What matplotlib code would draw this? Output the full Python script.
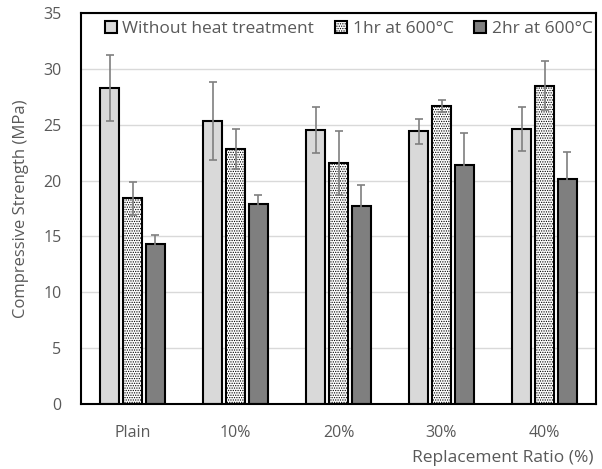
import matplotlib.pyplot as plt
import numpy as np

plt.rcParams['font.family'] = ['Open Sans', 'DejaVu Sans']
plt.rcParams['hatch.linewidth'] = 0.6

categories = ['Plain', '10%', '20%', '30%', '40%']
series_names = ['Without heat treatment', '1hr at 600°C', '2hr at 600°C']
no_heat = [28.3, 25.3, 24.5, 24.4, 24.6]
no_heat_err = [2.95, 3.5, 2.05, 1.1, 1.95]
hr1 = [18.4, 22.8, 21.6, 26.7, 28.5]
hr1_err = [1.5, 1.8, 2.85, 0.55, 2.2]
hr2 = [14.3, 17.9, 17.7, 21.4, 20.1]
hr2_err = [0.8, 0.8, 1.9, 2.9, 2.5]

GRAY_TXT = '#595959'

fig = plt.figure(figsize=(6.02, 4.69), dpi=100)
ax = fig.add_axes([81/602, 1 - 404/469, (596-81)/602, (404-13)/469])

x = np.arange(len(categories))
w = 0.185
step = 0.223
styles = [
    dict(color='#d9d9d9', hatch=None),
    dict(color='white', hatch='.......'),
    dict(color='#7f7f7f', hatch=None),
]
vals = [no_heat, hr1, hr2]
errs = [no_heat_err, hr1_err, hr2_err]
for i, (v, e, st, name) in enumerate(zip(vals, errs, styles, series_names)):
    ax.bar(x + (i - 1) * step, v, w, color=st['color'], hatch=st['hatch'],
           edgecolor='black', linewidth=1.5, label=name, zorder=2,
           yerr=e, error_kw=dict(ecolor='#7f7f7f', elinewidth=1.2, capsize=3, capthick=1.2, zorder=3))

ax.set_xlim(-0.5, len(categories) - 0.5)
ax.set_ylim(0, 35)
ax.set_yticks(range(0, 36, 5))
ax.set_xticks(x)
ax.set_xticklabels(categories)
ax.yaxis.grid(True, color='#d9d9d9', linewidth=1, zorder=0)
ax.set_axisbelow(True)
ax.tick_params(length=0, labelsize=11.5, colors=GRAY_TXT)
ax.tick_params(axis='y', pad=14)
ax.tick_params(axis='x', pad=15)
for s in ax.spines.values():
    s.set_color('black')
    s.set_linewidth(1.5)

ax.set_ylabel('Compressive Strength (MPa)', fontsize=12, color=GRAY_TXT, labelpad=10)
fig.text(594/602, 1 - 458/469, 'Replacement Ratio (%)', ha='right', va='center',
         fontsize=12.5, color=GRAY_TXT)

leg = ax.legend(loc='upper center', ncol=3, frameon=False, fontsize=12.5,
                handlelength=0.7, handleheight=0.7, handletextpad=0.3,
                columnspacing=1.2, bbox_to_anchor=(0.52, 1.02))
for t in leg.get_texts():
    t.set_color(GRAY_TXT)

fig.savefig('out.png', dpi=100)
